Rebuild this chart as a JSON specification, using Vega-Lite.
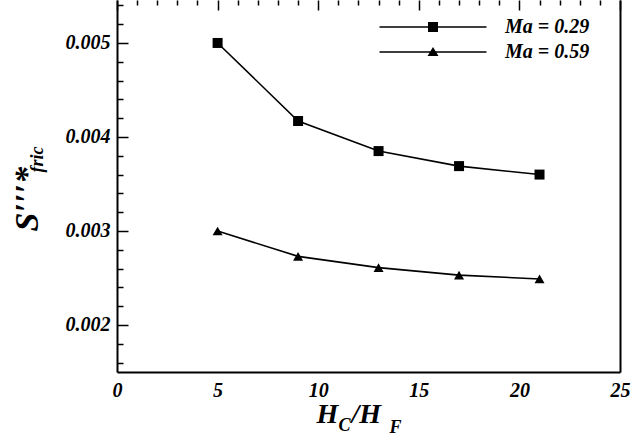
{
  "$schema": "https://vega.github.io/schema/vega-lite/v6.json",
  "autosize": "none",
  "width": 503,
  "height": 372,
  "padding": {"left": 117, "top": 0, "right": 15, "bottom": 63},
  "background": "white",
  "config": {
    "view": {"stroke": null},
    "font": "Liberation Serif",
    "axis": {
      "grid": false,
      "ticks": false,
      "domainColor": "black",
      "domainWidth": 2,
      "gridColor": "black",
      "gridOpacity": 1,
      "gridWidth": 1.5,
      "labelColor": "black",
      "labelFont": "Liberation Serif",
      "labelFontStyle": "italic",
      "labelFontWeight": "bold",
      "labelFontSize": 20,
      "labelOverlap": false,
      "labelFlush": false,
      "labelBound": false,
      "titleColor": "black",
      "titleFont": "Liberation Serif",
      "titleFontStyle": "italic",
      "titleFontWeight": "bold"
    }
  },
  "data": {
    "values": [
      {"hr": 5, "s": 0.00500, "series": "Ma = 0.29"},
      {"hr": 9, "s": 0.00417, "series": "Ma = 0.29"},
      {"hr": 13, "s": 0.00385, "series": "Ma = 0.29"},
      {"hr": 17, "s": 0.00369, "series": "Ma = 0.29"},
      {"hr": 21, "s": 0.00360, "series": "Ma = 0.29"},
      {"hr": 5, "s": 0.00300, "series": "Ma = 0.59"},
      {"hr": 9, "s": 0.00273, "series": "Ma = 0.59"},
      {"hr": 13, "s": 0.00261, "series": "Ma = 0.59"},
      {"hr": 17, "s": 0.00253, "series": "Ma = 0.59"},
      {"hr": 21, "s": 0.00249, "series": "Ma = 0.59"}
    ]
  },
  "layer": [
    {
      "mark": {"type": "line", "color": "black", "strokeWidth": 1.6},
      "encoding": {
        "x": {
          "field": "hr", "type": "quantitative",
          "scale": {"domain": [0, 25], "nice": false, "zero": false},
          "axis": {
            "orient": "bottom",
            "values": [0, 5, 10, 15, 20, 25],
            "grid": true,
            "gridDash": [10, 1000],
            "labelPadding": 8,
            "title": "H",
            "titleFontSize": 28,
            "titleX": 199,
            "titleY": 50,
            "titleAlign": "left",
            "titleBaseline": "alphabetic"
          }
        },
        "y": {
          "field": "s", "type": "quantitative",
          "scale": {"domain": [0.0015, 0.005457], "nice": false, "zero": false},
          "axis": {
            "orient": "left",
            "values": [0.002, 0.003, 0.004, 0.005],
            "format": ".3f",
            "grid": true,
            "gridDash": [11, 1000],
            "labelPadding": 7,
            "title": "S′′′*",
            "titleFontSize": 34,
            "titleAngle": -90,
            "titleX": -80,
            "titleY": 231,
            "titleAlign": "left",
            "titleBaseline": "alphabetic"
          }
        },
        "detail": {"field": "series"}
      }
    },
    {
      "mark": {"type": "point", "filled": true, "color": "black", "opacity": 1, "size": 100},
      "encoding": {
        "x": {
          "field": "hr", "type": "quantitative",
          "axis": {
            "orient": "bottom", "domain": false, "labels": false,
            "values": [1,2,3,4,6,7,8,9,11,12,13,14,16,17,18,19,21,22,23,24],
            "grid": true,
            "gridDash": [5, 1000],
            "title": "C", "titleFontSize": 18,
            "titleX": 221, "titleY": 58, "titleAlign": "left", "titleBaseline": "alphabetic"
          }
        },
        "y": {
          "field": "s", "type": "quantitative",
          "axis": {
            "orient": "left", "domain": false, "labels": false,
            "values": [0.0016,0.0018,0.0022,0.0024,0.0026,0.0028,0.0032,0.0034,0.0036,0.0038,0.0042,0.0044,0.0046,0.0048,0.0052,0.0054],
            "grid": true,
            "gridDash": [6, 1000],
            "title": "fric", "titleFontSize": 18, "titleAngle": -90,
            "titleX": -75, "titleY": 172, "titleAlign": "left", "titleBaseline": "alphabetic"
          }
        },
        "shape": {
          "field": "series", "type": "nominal",
          "scale": {"domain": ["Ma = 0.29", "Ma = 0.59"], "range": ["square", "triangle-up"]},
          "legend": null
        }
      }
    },
    {
      "mark": {"type": "point", "filled": true, "color": "black", "opacity": 0},
      "encoding": {
        "x": {
          "field": "hr", "type": "quantitative",
          "axis": {
            "orient": "bottom", "domain": false, "labels": false,
            "title": "/H", "titleFontSize": 28,
            "titleX": 234, "titleY": 50, "titleAlign": "left", "titleBaseline": "alphabetic"
          }
        },
        "y": {
          "field": "s", "type": "quantitative",
          "axis": {"orient": "right", "domain": true, "labels": false, "title": null}
        },
        "shape": {
          "field": "series", "type": "nominal",
          "scale": {
            "domain": ["Ma = 0.29", "Ma = 0.59"],
            "range": [
              "M-5.35,-0.08H5.35V0.08H-5.35ZM-0.5,-0.5H0.5V0.5H-0.5Z",
              "M-5.35,-0.08H5.35V0.08H-5.35ZM0,-0.5L0.55,0.4H-0.55Z"
            ]
          },
          "legend": {
            "title": null,
            "orient": "none",
            "legendX": 306,
            "legendY": 17,
            "symbolSize": 400,
            "symbolOpacity": 1,
            "symbolFillColor": "black",
            "symbolStrokeColor": "black",
            "symbolStrokeWidth": 0,
            "labelOffset": 62,
            "rowPadding": 5,
            "labelFont": "Liberation Serif",
            "labelFontStyle": "italic",
            "labelFontWeight": "bold",
            "labelFontSize": 20,
            "labelColor": "black",
            "labelLimit": 300
          }
        }
      }
    },
    {
      "mark": {"type": "point", "opacity": 0},
      "encoding": {
        "x": {
          "field": "hr", "type": "quantitative",
          "axis": {
            "orient": "bottom", "domain": false, "labels": false,
            "title": "F", "titleFontSize": 18,
            "titleX": 272, "titleY": 60, "titleAlign": "left", "titleBaseline": "alphabetic"
          }
        },
        "y": {"field": "s", "type": "quantitative", "axis": null}
      }
    }
  ],
  "resolve": {
    "axis": {"x": "independent", "y": "independent"},
    "scale": {"shape": "independent"}
  }
}
